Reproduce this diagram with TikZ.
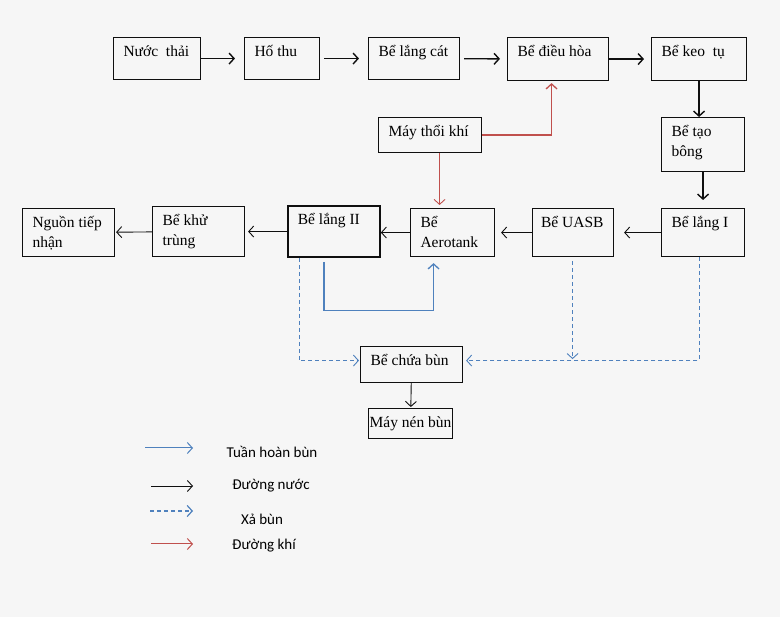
\documentclass[tikz,border=0pt]{standalone}
\usepackage{fontspec}
\setmainfont{Liberation Serif}
\newfontfamily\legendfont{Carlito}
\usepackage{tikz}
\usetikzlibrary{arrows.meta, calc}
\definecolor{mybg}{RGB}{246,246,246}
\definecolor{mydark}{RGB}{15,15,15}
\definecolor{myblue}{RGB}{79,129,189}
\definecolor{myred}{RGB}{192,80,77}
% text of a tank: width, height, lines (top-left)
\newcommand{\tanktext}[3]{\parbox[c][#2pt][t]{#1pt}{\raggedright\vspace*{5pt}\strut#3}}
\tikzset{
  tank/.style={rectangle, draw=mydark, line width=1.1pt, inner xsep=10pt,
    inner ysep=0pt, anchor=north west, font={\rmfamily\fontsize{15.5}{20}\selectfont}},
  bigtank/.style={tank, line width=1.8pt},
  water/.style={-{Straight Barb[length=5pt,width=11pt]}, line width=1.4pt, color=mydark},
  thinwater/.style={-{Straight Barb[length=5pt,width=11pt]}, line width=0.9pt, color=mydark},
  recirc/.style={-{Straight Barb[length=5pt,width=11pt]}, line width=1.3pt, color=myblue},
  sludge/.style={-{Straight Barb[length=5pt,width=11pt]}, line width=0.9pt, color=myblue,
    dash pattern=on 4pt off 3pt},
  air/.style={-{Straight Barb[length=5pt,width=11pt]}, line width=1.3pt, color=myred},
  legend/.style={font={\legendfont\fontsize{15}{18}\selectfont}, inner sep=0pt}
}
\begin{document}
\begin{tikzpicture}[x=1pt, y=-1pt]
  \fill[mybg] (0,0) rectangle (780,617);
  \useasboundingbox (0,0) rectangle (780,617);
  % ── Top row ──
  \node[tank] (nuoc) at (113,37) {\tanktext{67}{42}{Nước\ \ thải}};
  \node[tank] (hothu) at (244,37) {\tanktext{55}{42}{Hố thu}};
  \node[tank] (langcat) at (368,37) {\tanktext{71}{42}{Bể lắng cát}};
  \node[tank] (dieuhoa) at (507,37) {\tanktext{81}{43}{Bể điều hòa}};
  \node[tank] (keotu) at (651,37) {\tanktext{75}{43}{Bể keo\ \ tụ}};
  \node[tank] (taobong) at (661,117) {\tanktext{63}{54}{Bể tạo\\bông}};
  \node[tank] (maythoi) at (378,117) {\tanktext{83}{35}{Máy thổi khí}};
  % ── Second row ──
  \node[tank] (langI) at (661,208) {\tanktext{63}{48}{Bể lắng I}};
  \node[tank, inner xsep=8.5pt] (uasb) at (532,208) {\tanktext{64}{48}{Bể UASB}};
  \node[tank] (aerotank) at (410,208) {\tanktext{64}{48}{Bể\\Aerotank}};
  \node[bigtank] (langII) at (287,205) {\tanktext{72}{51}{Bể lắng II}};
  \node[tank] (khutrung) at (152,206) {\tanktext{72}{50}{Bể khử\\trùng}};
  \node[tank] (nguon) at (22,208) {\tanktext{72}{48}{Nguồn tiếp\\nhận}};
  % ── Sludge line ──
  \node[tank] (chuabun) at (360,346) {\tanktext{82}{36}{Bể chứa bùn}};
  \node[tank, inner xsep=0pt] (maynen) at (368,408) {\tanktext{84}{30}{\centering Máy nén bùn}};
  % Water line
  \draw[water, shorten >=9pt] (nuoc) -- (hothu);
  \draw[water, shorten <=4pt, shorten >=9pt] (hothu) -- (langcat);
  \draw[water, shorten <=4pt, shorten >=7pt] (langcat) -- (dieuhoa);
  \draw[water, shorten >=7pt] (dieuhoa) -- (keotu);
  \draw[water] (keotu.south) -- (keotu.south |- taobong.north);
  \draw[water, shorten >=8pt] (taobong.south) -- (langI.north);
  \draw[thinwater, shorten >=10pt] (langI) -- (uasb);
  \draw[thinwater, shorten >=6pt] (uasb) -- (aerotank);
  \draw[thinwater] (aerotank.west) -- (aerotank.west -| langII.east);
  \draw[thinwater, shorten >=3pt] (langII.west |- khutrung.east) -- (khutrung.east);
  \draw[thinwater, shorten >=1pt] (khutrung) -- (nguon);
  \draw[thinwater, shorten >=1pt] (chuabun) -- (maynen);
  % Air line
  \coordinate (airup) at ($(dieuhoa.south)+(-6.5,0)$);
  \coordinate (airdown) at ($(maythoi.south)+(9.5,0)$);
  \draw[air, shorten >=2pt] (maythoi.east) -| (airup);
  \draw[air, line width=0.9pt, shorten >=3pt] (airdown) -- (airdown |- aerotank.north);
  % Return sludge
  \draw[recirc] ($(langII.south)+(-10,4)$) -- ++(0,49) -| ($(aerotank.south)+(-19,6)$);
  % Waste sludge
  \draw[sludge, shorten >=1pt] ($(langII.south west)+(12,0)$) |- ($(chuabun.west)+(0,-4)$);
  \draw[sludge, shorten >=3pt] ($(langI.south west)+(38,0)$) |- ($(chuabun.east)+(0,-4)$);
  \draw[sludge] ($(uasb.south)+(-0.5,4)$) -- ($(uasb.south)+(-0.5,102)$);
  % ── Legend ──
  \coordinate (l1a) at (145,448); \coordinate (l1b) at (193,448);
  \coordinate (l2a) at (151,486); \coordinate (l2b) at (193,486);
  \coordinate (l3a) at (150,511); \coordinate (l3b) at (193,511);
  \coordinate (l4a) at (151,544); \coordinate (l4b) at (193,544);
  \draw[recirc, line width=1pt] (l1a) -- (l1b);
  \draw[thinwater] (l2a) -- (l2b);
  \draw[sludge, line width=1.2pt] (l3a) -- (l3b);
  \draw[air, line width=1pt] (l4a) -- (l4b);
  \node[legend] (l1) at (272,452) {Tuần hoàn bùn};
  \node[legend] (l2) at (271,486) {Đường nước};
  \node[legend] (l3) at (262,519) {Xả bùn};
  \node[legend] (l4) at (264,546) {Đường khí};
\end{tikzpicture}
\end{document}
